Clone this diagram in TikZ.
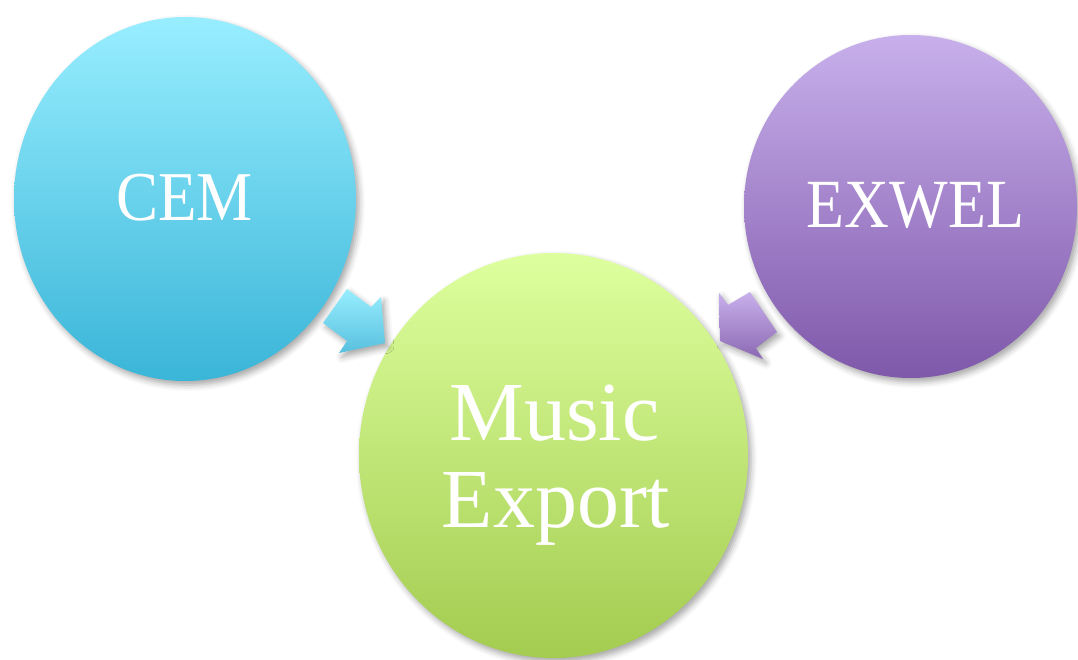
\documentclass[tikz,border=0pt]{standalone}
\usepackage{fontspec}
\setmainfont{Liberation Serif}
\usetikzlibrary{shapes.geometric,shadows.blur}
\definecolor{cyantop}{RGB}{152,238,255}
\definecolor{cyanbot}{RGB}{58,181,216}
\definecolor{greentop}{RGB}{222,255,158}
\definecolor{greenbot}{RGB}{163,204,80}
\definecolor{purptop}{RGB}{200,176,236}
\definecolor{purpbot}{RGB}{127,88,170}
\tikzset{
  softshadow/.style={blur shadow={shadow xshift=3pt, shadow yshift=-4pt, shadow blur radius=6pt, shadow opacity=35}},
  bubble/.style={ellipse, inner sep=0pt, draw=none, softshadow},
  label text/.style={text=white, inner sep=0pt, anchor=base},
  blockarrow/.style={draw=none, softshadow}
}
\begin{document}
\begin{tikzpicture}[x=1pt,y=-1pt]
\useasboundingbox (0,0) rectangle (1078,660);
\clip (0,0) rectangle (1078,660);
% circles
\node[bubble, top color=cyantop, bottom color=cyanbot, minimum width=342pt, minimum height=364pt] (cem) at (185,199) {};
\node[bubble, top color=purptop, bottom color=purpbot, minimum width=333pt, minimum height=343pt] (exwel) at (910.5,206.5) {};
\node[bubble, top color=greentop, bottom color=greenbot, minimum width=389pt, minimum height=405pt] (music) at (553.5,455.5) {};
% block arrows
\path[blockarrow, top color=cyantop, bottom color=cyanbot!85!white]
  (347,289) -- (371,307) -- (381,297) -- (385,343) -- (339,353) -- (347,341) -- (323,323) -- cycle;
\path[blockarrow, top color=purptop, bottom color=purpbot!90!white]
  (750,292) -- (728,305) -- (719,293) -- (720,341) -- (763,359) -- (756,348) -- (777,332) -- cycle;
% texts
\node[label text, font=\fontsize{70}{80}\selectfont] (cemtext) at (184.5,221) {\scalebox{0.9}[1]{CEM}};
\node[label text, font=\fontsize{69}{80}\selectfont] (exweltext) at (915.5,228) {\scalebox{0.9}[1]{EXWEL}};
\node[label text, font=\fontsize{84}{90}\selectfont] (musictext) at (554.5,440) {Music};
\node[label text, font=\fontsize{84}{90}\selectfont] (exporttext) at (556,527) {Export};
\end{tikzpicture}
\end{document}
